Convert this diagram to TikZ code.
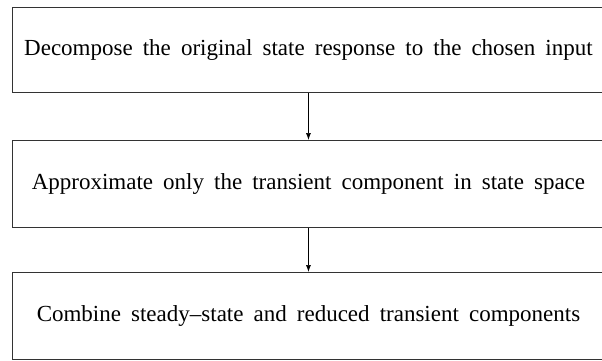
\documentclass[tikz,border=0pt]{standalone}
\usepackage{fontspec}
\setmainfont[WordSpace=1.75]{Liberation Serif}
\usetikzlibrary{arrows.meta}
\begin{document}
\begin{tikzpicture}[x=1pt,y=-1pt,
  stage/.style={draw=black!80,line width=0.9pt,minimum width=592pt,anchor=north west,inner sep=0pt,font=\fontsize{23}{26}\selectfont},
  flow/.style={-{Latex[length=7pt,width=5pt]},line width=0.7pt}]
\useasboundingbox (0,0) rectangle (602,360);
\node[stage,minimum height=85pt] (a) at (12,7) {Decompose the original state response to the chosen input};
\node[stage,minimum height=87pt] (b) at (12,140) {Approximate only the transient component in state space};
\node[stage,minimum height=87pt] (c) at (12,272) {Combine steady–state and reduced transient components};
\draw[flow] (a.south) -- (b.north);
\draw[flow] (b.south) -- (c.north);
\end{tikzpicture}
\end{document}
